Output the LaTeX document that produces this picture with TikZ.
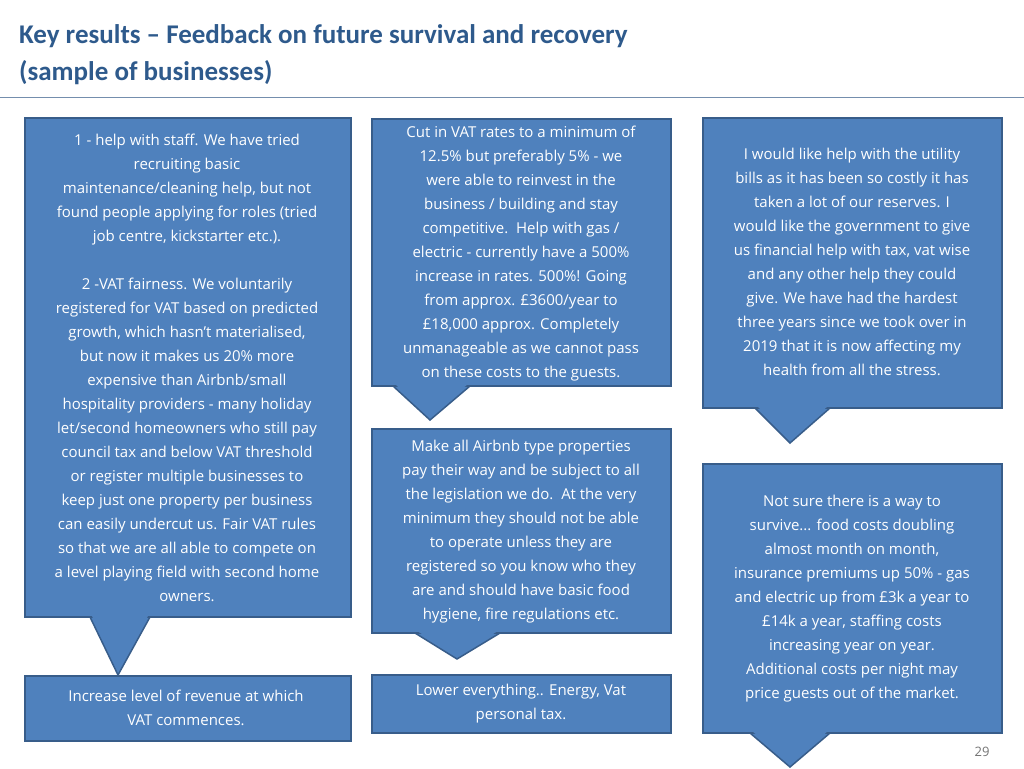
\documentclass[tikz,border=0pt]{standalone}
\usepackage{fontspec}
\setmainfont{Open Sans}
\newfontfamily\titlefont{Carlito}
\definecolor{boxfill}{HTML}{4F81BD}
\definecolor{boxline}{HTML}{385D8A}
\definecolor{titleblue}{HTML}{2E5A8C}
\tikzset{
  box/.style={fill=boxfill,draw=boxline,line width=1.5pt},
  boxtext/.style={text=white,align=center,font=\fontsize{15}{24}\selectfont,inner sep=0pt},
}
\begin{document}
\begin{tikzpicture}[x=1pt,y=-1pt]
\useasboundingbox (0,0) rectangle (1024,768);
\node[anchor=west,text=titleblue,font=\titlefont\bfseries\fontsize{27}{32}\selectfont,inner sep=0pt] (t1) at (19,36) {Key results – Feedback on future survival and recovery};
\node[anchor=west,text=titleblue,font=\titlefont\bfseries\fontsize{27}{32}\selectfont,inner sep=0pt] (t2) at (19,73) {(sample of businesses)};
\draw[draw=boxline!70,line width=1pt] (0,97) -- (1024,97);

% box 1
\draw[box] (90,617) -- (118,675) -- (150,617) -- cycle;
\draw[box] (25,118) rectangle (351,617);
\fill[boxfill] (91.5,615) -- (118,671) -- (148.5,615) -- cycle;
\node[boxtext] (b1) at (187,368) {1 - help with staff. We have tried\\ recruiting basic\\ maintenance/cleaning help, but not\\ found people applying for roles (tried\\ job centre, kickstarter etc.).\\[24pt]
2 -VAT fairness. We voluntarily\\ registered for VAT based on predicted\\ growth, which hasn't materialised,\\ but now it makes us 20\% more\\ expensive than Airbnb/small\\ hospitality providers - many holiday\\ let/second homeowners who still pay\\ council tax and below VAT threshold\\ or register multiple businesses to\\ keep just one property per business\\ can easily undercut us. Fair VAT rules\\ so that we are all able to compete on\\ a level playing field with second home\\ owners.};

% box 2
\draw[box] (393,386) -- (430,420) -- (470,386) -- cycle;
\draw[box] (372,119) rectangle (671,386);
\fill[boxfill] (395,384) -- (430,416) -- (468,384) -- cycle;
\node[boxtext] (b2) at (521,254) {Cut in VAT rates to a minimum of\\ 12.5\% but preferably 5\% - we\\ were able to reinvest in the\\ business / building and stay\\ competitive.\ \ Help with gas /\\ electric - currently have a 500\%\\ increase in rates. 500\%! Going\\ from approx. £3600/year to\\ £18,000 approx. Completely\\ unmanageable as we cannot pass\\ on these costs to the guests.};

% box 3
\draw[box] (755,408) -- (790,443) -- (830,408) -- cycle;
\draw[box] (703,118) rectangle (1002,408);
\fill[boxfill] (757,406) -- (790,439) -- (828,406) -- cycle;
\node[boxtext] (b3) at (852,262) {I would like help with the utility\\ bills as it has been so costly it has\\ taken a lot of our reserves. I\\ would like the government to give\\ us financial help with tax, vat wise\\ and any other help they could\\ give. We have had the hardest\\ three years since we took over in\\ 2019 that it is now affecting my\\ health from all the stress.};

% box 4
\draw[box] (415,633) -- (457,659) -- (500,633) -- cycle;
\draw[box] (372,429) rectangle (671,633);
\fill[boxfill] (417,631) -- (457,655) -- (498,631) -- cycle;
\node[boxtext] (b4) at (521,532) {Make all Airbnb type properties\\ pay their way and be subject to all\\ the legislation we do.\ \ At the very\\ minimum they should not be able\\ to operate unless they are\\ registered so you know who they\\ are and should have basic food\\ hygiene, fire regulations etc.};

% box 5
\draw[box] (750,733) -- (790,767) -- (830,733) -- cycle;
\draw[box] (703,464) rectangle (1002,733);
\fill[boxfill] (752,731) -- (790,763) -- (828,731) -- cycle;
\node[boxtext] (b5) at (852,599) {Not sure there is a way to\\ survive... food costs doubling\\ almost month on month,\\ insurance premiums up 50\% - gas\\ and electric up from £3k a year to\\ £14k a year, staffing costs\\ increasing year on year.\\ Additional costs per night may\\ price guests out of the market.};

% box 6
\draw[box] (25,676) rectangle (351,741);
\node[boxtext] (b6) at (186,708) {Increase level of revenue at which\\ VAT commences.};

% box 7
\draw[box] (372,675) rectangle (671,733);
\node[boxtext] (b7) at (521,704) {Lower everything.. Energy, Vat\\ personal tax.};

\node[text=black!55,font=\fontsize{13}{15}\selectfont,inner sep=0pt] (pg) at (982,752) {29};
\end{tikzpicture}
\end{document}
